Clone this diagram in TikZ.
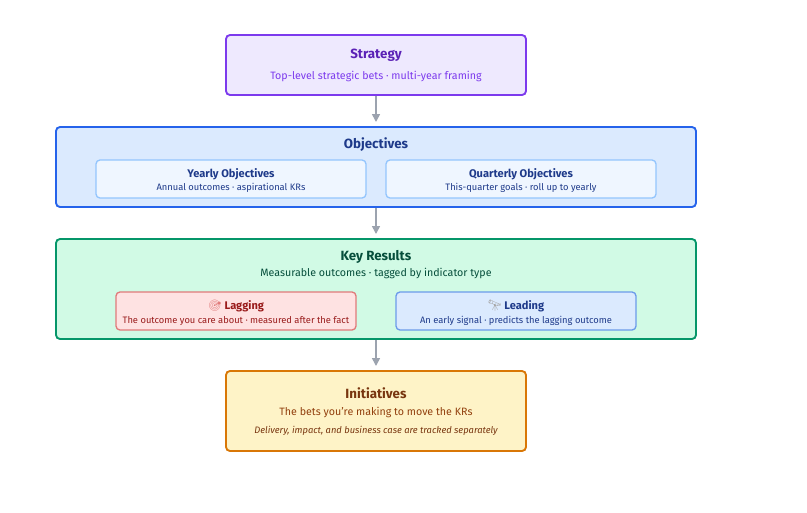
\documentclass[tikz,border=0pt]{standalone}
\usepackage{fontspec}
\setmainfont{Fira Sans}
\newfontfamily\emo{Noto Emoji}
\usetikzlibrary{arrows.meta}
\definecolor{sF}{HTML}{EEE9FE}\definecolor{sD}{HTML}{7C3AED}\definecolor{sT}{HTML}{5B21B6}\definecolor{sS}{HTML}{7C3AED}
\definecolor{oF}{HTML}{DBEAFE}\definecolor{oD}{HTML}{2563EB}\definecolor{oT}{HTML}{1E3A8A}
\definecolor{iF}{HTML}{EFF6FF}\definecolor{iD}{HTML}{93C5FD}
\definecolor{kF}{HTML}{D1FAE5}\definecolor{kD}{HTML}{059669}\definecolor{kT}{HTML}{064E3B}
\definecolor{lgF}{HTML}{FEE2E2}\definecolor{lgD}{HTML}{E07A7A}\definecolor{lgT}{HTML}{991B1B}
\definecolor{ldF}{HTML}{DBEAFE}\definecolor{ldD}{HTML}{6B9BEA}\definecolor{ldT}{HTML}{1E3A8A}
\definecolor{nF}{HTML}{FEF3C7}\definecolor{nD}{HTML}{D97706}\definecolor{nT}{HTML}{78350F}\definecolor{nS}{HTML}{92400E}
\definecolor{arr}{HTML}{9CA3AF}
\tikzset{box/.style={rounded corners=3pt,line width=1.4pt},
sub/.style={rounded corners=3pt,line width=1pt},
ttl/.style={font=\bfseries\fontsize{10}{12}\selectfont},
txt/.style={font=\fontsize{8}{10}\selectfont},
sm/.style={font=\fontsize{7}{9}\selectfont},
ar/.style={arr,line width=1.2pt,-{Triangle[length=6pt,width=6pt]}}}
\begin{document}
\begin{tikzpicture}[x=0.75pt,y=-0.75pt]
\useasboundingbox (0,0) rectangle (807,512);
\fill[white] (0,0) rectangle (807,512);
\draw[box,draw=sD,fill=sF] (226,35) rectangle (526,95);
\node[ttl,text=sT] (st) at (376,55) {Strategy};
\node[txt,text=sS] (sts) at (376,76) {Top-level strategic bets · multi-year framing};
\draw[box,draw=oD,fill=oF] (56,127) rectangle (696,207);
\node[ttl,text=oT] (ob) at (376,145) {Objectives};
\draw[sub,draw=iD,fill=iF] (96,160) rectangle (366,198);
\draw[sub,draw=iD,fill=iF] (386,160) rectangle (656,198);
\node[txt,font=\bfseries\fontsize{8.3}{10}\selectfont,text=oT] (yo) at (231,174) {Yearly Objectives};
\node[sm,text=oT] (yos) at (231,188) {Annual outcomes · aspirational KRs};
\node[txt,font=\bfseries\fontsize{8.3}{10}\selectfont,text=oT] (qo) at (521,174) {Quarterly Objectives};
\node[sm,text=oT] (qos) at (521,188) {This-quarter goals · roll up to yearly};
\draw[box,draw=kD,fill=kF] (56,239) rectangle (696,339);
\node[ttl,text=kT] (kr) at (376,257) {Key Results};
\node[txt,text=kT] (krs) at (376,273) {Measurable outcomes · tagged by indicator type};
\draw[sub,draw=lgD,fill=lgF] (116,292) rectangle (356,330);
\draw[sub,draw=ldD,fill=ldF] (396,292) rectangle (636,330);
\node[txt,font=\bfseries\fontsize{8.3}{10}\selectfont,text=lgT] (lg) at (236,306) {{\emo\color{lgD}🎯} Lagging};
\node[sm,text=lgT] (lgs) at (236,321) {The outcome you care about · measured after the fact};
\node[txt,font=\bfseries\fontsize{8.3}{10}\selectfont,text=ldT] (ld) at (516,306) {{\emo\color{gray!70}🔭} Leading};
\node[sm,text=ldT] (lds) at (516,321) {An early signal · predicts the lagging outcome};
\draw[box,draw=nD,fill=nF] (226,371) rectangle (526,451);
\node[ttl,text=nT] (in) at (376,393) {Initiatives};
\node[txt,text=nS] (ins) at (376,412) {The bets you're making to move the KRs};
\node[sm,font=\itshape\fontsize{7}{9}\selectfont,text=nT] (ini) at (376,431) {Delivery, impact, and business case are tracked separately};
\coordinate (a1) at (376,96); \coordinate (b1) at (376,122);
\coordinate (a2) at (376,208); \coordinate (b2) at (376,234);
\coordinate (a3) at (376,340); \coordinate (b3) at (376,366);
\draw[ar] (a1)--(b1); \draw[ar] (a2)--(b2); \draw[ar] (a3)--(b3);
\end{tikzpicture}
\end{document}
